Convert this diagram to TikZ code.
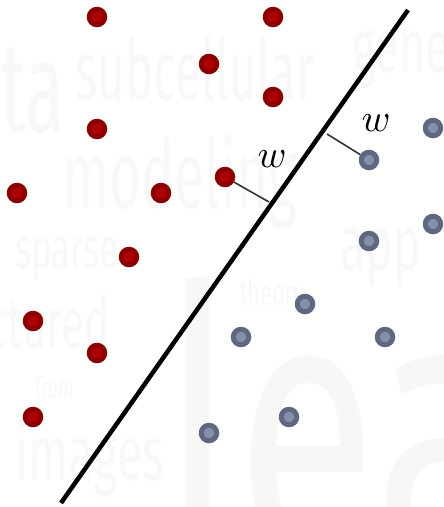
\documentclass[tikz,border=0pt]{standalone}
\usepackage{fontspec}
\newfontfamily\cloudfont{Fira Sans}
\definecolor{cloud}{RGB}{248,248,248}
\definecolor{cloudwarm}{RGB}{249,246,246}
\definecolor{redout}{RGB}{139,0,0}
\definecolor{redin}{RGB}{176,0,0}
\definecolor{blueout}{RGB}{94,104,128}
\definecolor{bluein}{RGB}{134,144,170}
\tikzset{
  bgword/.style={text=cloud, inner sep=0pt, anchor=base west, font=\cloudfont},
  reddot/.style={circle, draw=redout, fill=redin, line width=5pt, minimum size=15.5pt, inner sep=0pt},
  bluedot/.style={circle, draw=blueout, fill=bluein, line width=5pt, minimum size=15.5pt, inner sep=0pt},
  sep/.style={line width=4.5pt, black},
  margin/.style={line width=1.6pt, black!80},
  wlabel/.style={inner sep=0pt, scale=3.9}
}
\begin{document}
\begin{tikzpicture}[x=1pt,y=-1pt]
\useasboundingbox (0,0) rectangle (444,507);
\fill[white] (0,0) rectangle (444,507);
% faint word cloud background
\begin{scope}
\clip (0,0) rectangle (444,507);
\node[bgword, xscale=0.55, font=\cloudfont\fontsize{130}{130}\selectfont] (wta) at (0,132) {ta};
\node[bgword, xscale=0.56, font=\cloudfont\fontsize{85}{85}\selectfont] (wsub) at (75,100) {subcellular};
\node[bgword, xscale=0.6, font=\cloudfont\fontsize{75}{75}\selectfont] (wgene) at (352,72) {gene};
\node[bgword, xscale=0.58, font=\cloudfont\fontsize{95}{95}\selectfont] (wmod) at (62,208) {modeling};
\node[bgword, xscale=0.6, font=\cloudfont\fontsize{58}{58}\selectfont] (wsp) at (15,268) {sparse};
\node[bgword, xscale=0.58, font=\cloudfont\fontsize{72}{72}\selectfont] (wstr) at (-88,348) {structured};
\node[bgword, xscale=0.6, font=\cloudfont\fontsize{30}{30}\selectfont] (wfrom) at (35,398) {from};
\node[bgword, xscale=0.6, font=\cloudfont\fontsize{78}{78}\selectfont] (wimg) at (15,480) {images};
\node[bgword, xscale=0.6, font=\cloudfont\fontsize{78}{78}\selectfont] (wapp) at (340,270) {app};
\node[bgword, xscale=0.6, font=\cloudfont\fontsize{36}{36}\selectfont] (wthe) at (240,305) {theory};
\node[bgword, text=cloudwarm, xscale=0.68, font=\cloudfont\fontsize{380}{380}\selectfont] (wlea) at (162,560) {lea};
\end{scope}
% separating line
\coordinate (lb) at (61,503);
\coordinate (lt) at (408,10);
\draw[sep, line cap=butt] (lb) -- (lt);
% margin feet on the line
\coordinate (f1) at (269,202);
\coordinate (f2) at (327,134);
% red points
\node[reddot] (r1) at (97,17) {};
\node[reddot] (r2) at (273,17) {};
\node[reddot] (r3) at (209,64) {};
\node[reddot] (r4) at (273,97) {};
\node[reddot] (r5) at (97,129) {};
\node[reddot] (r6) at (17,193) {};
\node[reddot] (r7) at (161,193) {};
\node[reddot] (r8) at (225,177) {};
\node[reddot] (r9) at (129,257) {};
\node[reddot] (r10) at (33,321) {};
\node[reddot] (r11) at (97,353) {};
\node[reddot] (r12) at (33,417) {};
% blue points
\node[bluedot] (b1) at (433,128) {};
\node[bluedot] (b2) at (369,160) {};
\node[bluedot] (b3) at (433,224) {};
\node[bluedot] (b4) at (369,241) {};
\node[bluedot] (b5) at (305,304) {};
\node[bluedot] (b6) at (241,337) {};
\node[bluedot] (b7) at (385,337) {};
\node[bluedot] (b8) at (289,417) {};
\node[bluedot] (b9) at (209,433) {};
% margins
\draw[margin] (r8) -- (f1);
\draw[margin] (b2) -- (f2);
\node[wlabel] (w1) at (272,159) {$w$};
\node[wlabel] (w2) at (376,123) {$w$};
\end{tikzpicture}
\end{document}
